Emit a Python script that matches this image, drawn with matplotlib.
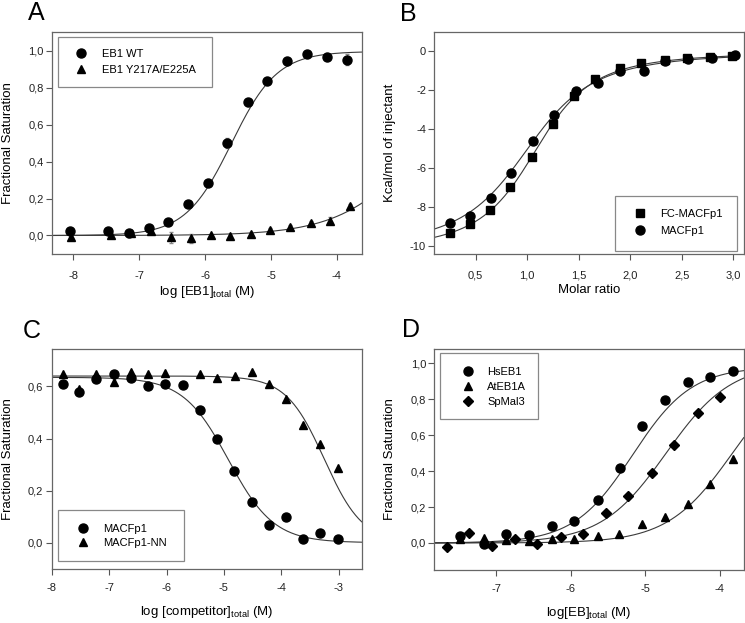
import numpy as np
import matplotlib
matplotlib.use('Agg')
import matplotlib.pyplot as plt
from matplotlib import rc
from matplotlib.ticker import FuncFormatter
from matplotlib.patches import Rectangle

rc('font', family='Liberation Sans', size=8)
rc('mathtext', default='regular')

# ---- panel A : EB1 binding ----
a_wt_x = [-8.05, -7.47, -7.15, -6.85, -6.56, -6.26, -5.96, -5.66, -5.35, -5.06, -4.75, -4.45, -4.15, -3.85]
a_wt_y = [0.025, 0.025, 0.015, 0.04, 0.075, 0.17, 0.285, 0.50, 0.72, 0.835, 0.945, 0.98, 0.966, 0.95]
a_wt_err = [0.01, 0.01, 0.01, 0.015, 0.01, 0.01, 0.015, 0.025, 0.02, 0.015, 0.01, 0.01, 0.01, 0.03]
a_mut_x = [-8.03, -7.42, -7.12, -6.82, -6.51, -6.22, -5.91, -5.62, -5.31, -5.01, -4.71, -4.40, -4.10, -3.80]
a_mut_y = [-0.007, 0.0, 0.015, 0.025, -0.01, -0.015, 0.0, -0.002, 0.01, 0.028, 0.048, 0.068, 0.08, 0.16]
a_mut_err = [0.01, 0.01, 0.01, 0.01, 0.03, 0.025, 0.01, 0.01, 0.01, 0.015, 0.01, 0.01, 0.02, 0.01]
a_wt_fit = (0.995, -5.6, 1.25)     # top, logEC50, hill slope
a_mut_fit = (1.0, -2.66, 0.7)

# ---- panel B : ITC ----
b_fc_x = [0.248, 0.444, 0.642, 0.838, 1.045, 1.251, 1.457, 1.662, 1.897, 2.107, 2.333, 2.549, 2.775, 2.985]
b_fc_y = [-9.30, -8.87, -8.13, -6.94, -5.42, -3.72, -2.27, -1.42, -0.87, -0.58, -0.44, -0.34, -0.29, -0.24]
b_mac_x = [0.248, 0.444, 0.648, 0.848, 1.058, 1.264, 1.474, 1.688, 1.904, 2.13, 2.34, 2.56, 2.79, 3.02]
b_mac_y = [-8.82, -8.44, -7.54, -6.22, -4.59, -3.28, -2.02, -1.64, -0.99, -0.99, -0.48, -0.41, -0.31, -0.18]
b_fc_fit = (-10.3, 1.15, 15.0)     # dH, stoichiometry, c
b_mac_fit = (-10.2, 1.1, 10.0)

# ---- panel C : competition ----
c_mac_x = [-7.81, -7.52, -7.22, -6.91, -6.61, -6.32, -6.02, -5.72, -5.41, -5.12, -4.82, -4.515, -4.21, -3.92, -3.62, -3.32, -3.02]
c_mac_y = [0.611, 0.580, 0.627, 0.646, 0.634, 0.600, 0.611, 0.607, 0.510, 0.397, 0.275, 0.157, 0.066, 0.100, 0.013, 0.038, 0.015]
c_nn_x = [-7.81, -7.52, -7.22, -6.91, -6.61, -6.32, -6.02, -5.41, -5.12, -4.81, -4.515, -4.21, -3.92, -3.62, -3.32, -3.02]
c_nn_y = [0.646, 0.59, 0.646, 0.618, 0.656, 0.646, 0.653, 0.646, 0.634, 0.639, 0.656, 0.611, 0.550, 0.451, 0.379, 0.288]
c_mac_fit = (0.635, -4.92, -1.1)
c_nn_fit = (0.64, -3.25, -1.3)

# ---- panel D : EB homologues ----
d_hs_x = [-7.48, -7.17, -6.87, -6.56, -6.25, -5.95, -5.64, -5.34, -5.04, -4.73, -4.43, -4.13, -3.82]
d_hs_y = [0.037, -0.004, 0.052, 0.046, 0.096, 0.122, 0.240, 0.415, 0.651, 0.793, 0.897, 0.922, 0.954]
d_at_x = [-7.48, -7.17, -6.87, -6.56, -6.25, -5.95, -5.64, -5.35, -5.04, -4.73, -4.43, -4.13, -3.82]
d_at_y = [0.02, 0.026, 0.015, 0.01, 0.02, 0.02, 0.040, 0.050, 0.103, 0.142, 0.216, 0.330, 0.467]
d_sp_x = [-7.66, -7.36, -7.05, -6.75, -6.45, -6.13, -5.83, -5.53, -5.23, -4.91, -4.61, -4.30, -4.00]
d_sp_y = [-0.022, 0.055, -0.019, 0.022, -0.004, 0.031, 0.052, 0.166, 0.262, 0.388, 0.544, 0.725, 0.812]
d_hs_fit = (0.98, -5.17, 1.1)
d_at_fit = (1.0, -3.83, 1.0)
d_sp_fit = (1.0, -4.72, 1.0)


def hill(x, top, x0, n):
    return top / (1 + 10 ** (n * (x0 - x)))


def wiseman(x, dh, n, c):
    xr = x / n
    r = 1.0 / c
    return dh * (0.5 - (xr + r - 1) / (2 * np.sqrt((1 + xr + r) ** 2 - 4 * xr)))


comma1 = FuncFormatter(lambda v, p: ('%.1f' % v).replace('.', ','))
comma_int = FuncFormatter(lambda v, p: '%d' % round(v))

fig = plt.figure(figsize=(7.45, 6.23), dpi=100)
axA = fig.add_axes([0.0698, 0.5923, 0.4161, 0.3563])
axB = fig.add_axes([0.5830, 0.5923, 0.4153, 0.3563])
axC = fig.add_axes([0.0694, 0.0872, 0.4161, 0.3531])
axD = fig.add_axes([0.5830, 0.0851, 0.4153, 0.3552])

lc = '#3a3a3a'
for ax in (axA, axB, axC, axD):
    for s in ax.spines.values():
        s.set_color('#666666')
        s.set_linewidth(0.9)
    ax.tick_params(direction='out', length=4, width=0.8, color='#555555', labelcolor='#222222')
    ax.tick_params(axis='y', pad=2)
    ax.tick_params(axis='x', pad=8)

# A
xs = np.linspace(-8.32, -3.62, 300)
axA.plot(xs, hill(xs, *a_wt_fit), color=lc, lw=0.8)
axA.plot(xs, hill(xs, *a_mut_fit), color=lc, lw=0.8)
axA.errorbar(a_wt_x, a_wt_y, yerr=a_wt_err, fmt='none', ecolor='#888888', elinewidth=0.7, capsize=1.5)
axA.errorbar(a_mut_x, a_mut_y, yerr=a_mut_err, fmt='none', ecolor='#888888', elinewidth=0.7, capsize=1.5)
hA1, = axA.plot(a_wt_x, a_wt_y, 'o', color='black', ms=6.5, label='EB1 WT')
hA2, = axA.plot(a_mut_x, a_mut_y, '^', color='black', ms=6, label='EB1 Y217A/E225A')
axA.set_xlim(-8.32, -3.62)
axA.set_ylim(-0.1, 1.1)
axA.set_xticks([-8, -7, -6, -5, -4])
axA.set_yticks([0, 0.2, 0.4, 0.6, 0.8, 1.0])
axA.yaxis.set_major_formatter(comma1)
axA.xaxis.set_major_formatter(comma_int)
axA.set_xlabel(r'log [EB1]$_{total}$ (M)', fontsize=9.5)
axA.set_ylabel('Fractional Saturation', fontsize=9.5)
axA.add_patch(Rectangle((0.019, 0.752), 0.497, 0.225, transform=axA.transAxes,
                        fill=False, edgecolor='#888888', lw=0.9))
axA.legend(handles=[hA1, hA2], loc='center left', bbox_to_anchor=(0.061, 0.865), borderaxespad=0,
           frameon=False, handlelength=1, handletextpad=1.4, labelspacing=0.5, fontsize=8)

# B
xs = np.linspace(0.1, 3.05, 300)
axB.plot(xs, wiseman(xs, *b_fc_fit), color=lc, lw=0.8)
axB.plot(xs, wiseman(xs, *b_mac_fit), color=lc, lw=0.8)
hB1, = axB.plot(b_fc_x, b_fc_y, 's', color='black', ms=6, label='FC-MACFp1')
hB2, = axB.plot(b_mac_x, b_mac_y, 'o', color='black', ms=6.5, label='MACFp1')
axB.set_xlim(0.1, 3.1)
axB.set_ylim(-10.4, 1.0)
axB.set_xticks([0.5, 1.0, 1.5, 2.0, 2.5, 3.0])
axB.set_yticks([-10, -8, -6, -4, -2, 0])
axB.xaxis.set_major_formatter(comma1)
axB.yaxis.set_major_formatter(comma_int)
axB.set_xlabel('Molar ratio', fontsize=9.5)
axB.set_ylabel('Kcal/mol of injectant', fontsize=9.5)
axB.add_patch(Rectangle((0.584, 0.0135), 0.394, 0.248, transform=axB.transAxes,
                        fill=False, edgecolor='#888888', lw=0.9))
axB.legend(handles=[hB1, hB2], loc='center left', bbox_to_anchor=(0.6325, 0.142), borderaxespad=0,
           frameon=False, handlelength=1, handletextpad=1.3, labelspacing=0.65, fontsize=8)

# C
xs = np.linspace(-8, -2.6, 300)
axC.plot(xs, hill(xs, *c_mac_fit), color=lc, lw=0.8)
axC.plot(xs, hill(xs, *c_nn_fit), color=lc, lw=0.8)
hC1, = axC.plot(c_mac_x, c_mac_y, 'o', color='black', ms=6.5, label='MACFp1')
hC2, = axC.plot(c_nn_x, c_nn_y, '^', color='black', ms=6, label='MACFp1-NN')
axC.set_xlim(-8, -2.6)
axC.set_ylim(-0.1, 0.745)
axC.set_xticks([-8, -7, -6, -5, -4, -3])
axC.set_yticks([0, 0.2, 0.4, 0.6])
axC.yaxis.set_major_formatter(comma1)
axC.xaxis.set_major_formatter(comma_int)
axC.tick_params(axis='x', pad=6)
axC.set_xlabel(r'log [competitor]$_{total}$ (M)', fontsize=9.5)
axC.set_ylabel('Fractional Saturation', fontsize=9.5)
axC.add_patch(Rectangle((0.0213, 0.035), 0.4055, 0.2305, transform=axC.transAxes,
                        fill=False, edgecolor='#888888', lw=0.9))
axC.legend(handles=[hC1, hC2], loc='center left', bbox_to_anchor=(0.0697, 0.1495), borderaxespad=0,
           frameon=False, handlelength=1, handletextpad=1.3, labelspacing=0.4, fontsize=8)

# D
xs = np.linspace(-7.83, -3.68, 300)
axD.plot(xs, hill(xs, *d_hs_fit), color=lc, lw=0.8)
axD.plot(xs, hill(xs, *d_at_fit), color=lc, lw=0.8)
axD.plot(xs, hill(xs, *d_sp_fit), color=lc, lw=0.8)
hD1, = axD.plot(d_hs_x, d_hs_y, 'o', color='black', ms=6.5, label='HsEB1')
hD2, = axD.plot(d_at_x, d_at_y, '^', color='black', ms=6, label='AtEB1A')
hD3, = axD.plot(d_sp_x, d_sp_y, 'D', color='black', ms=5.5, label='SpMal3')
axD.set_xlim(-7.83, -3.68)
axD.set_ylim(-0.15, 1.08)
axD.set_xticks([-7, -6, -5, -4])
axD.set_yticks([0, 0.2, 0.4, 0.6, 0.8, 1.0])
axD.yaxis.set_major_formatter(comma1)
axD.xaxis.set_major_formatter(comma_int)
axD.tick_params(axis='x', pad=6)
axD.set_xlabel(r'log[EB]$_{total}$ (M)', fontsize=9.5)
axD.set_ylabel('Fractional Saturation', fontsize=9.5)
axD.add_patch(Rectangle((0.0194, 0.684), 0.315, 0.2955, transform=axD.transAxes,
                        fill=False, edgecolor='#888888', lw=0.9))
axD.legend(handles=[hD1, hD2, hD3], loc='center left', bbox_to_anchor=(0.0756, 0.826), borderaxespad=0,
           frameon=False, handlelength=1, handletextpad=1.24, labelspacing=0.45, fontsize=8)

for ax in (axA, axB, axC, axD):
    ax.yaxis.set_label_coords(-0.123, 0.5)
axA.xaxis.set_label_coords(0.5, -0.135)
axB.xaxis.set_label_coords(0.5, -0.135)
axC.xaxis.set_label_coords(0.5, -0.162)
axD.xaxis.set_label_coords(0.5, -0.158)

fig.text(36.3 / 745, 1 - 12.8 / 623, 'A', fontsize=18, ha='center', va='center')
fig.text(408 / 745, 1 - 14 / 623, 'B', fontsize=18, ha='center', va='center')
fig.text(31.7 / 745, 1 - 331 / 623, 'C', fontsize=18, ha='center', va='center')
fig.text(411 / 745, 1 - 330 / 623, 'D', fontsize=18, ha='center', va='center')

fig.savefig('out.png', dpi=100)
